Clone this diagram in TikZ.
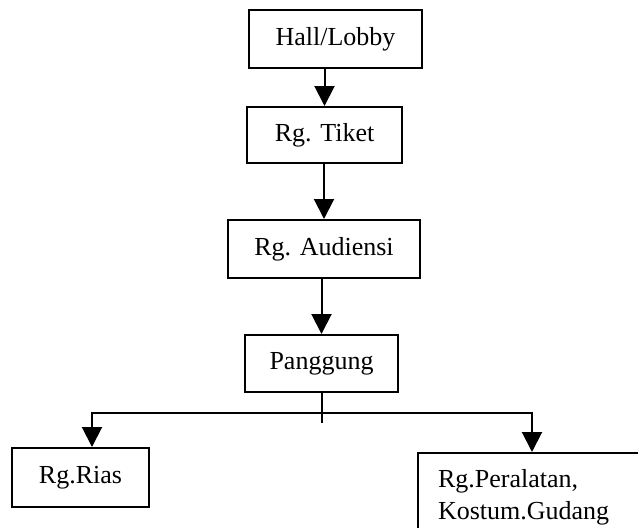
\documentclass[tikz,border=0pt]{standalone}
\usepackage{fontspec}
\setmainfont{Liberation Serif}
\usetikzlibrary{arrows.meta, positioning}
\tikzset{
  room/.style={draw, line width=1pt, align=center, inner sep=2pt, font=\fontsize{13}{16}\selectfont},
  arrow/.style={-{Triangle[length=10pt, width=10pt]}, line width=1pt},
  every node/.style={font=\fontsize{13}{16}\selectfont}
}

\begin{document}
\begin{tikzpicture}[x=0.5pt,y=-0.5pt]
    \useasboundingbox (0,0) rectangle (638,527);
    \clip (0,0) rectangle (638,527);
    % main chain
    \node[room, minimum width=86.5pt, minimum height=29pt] (hall) at (335.5,39) {Hall/Lobby};
    \node[room, minimum width=77.5pt, minimum height=28pt] (tiket) at (324.5,135) {Rg. Tiket};
    \node[room, minimum width=96pt, minimum height=29pt] (audiensi) at (324,249) {Rg. Audiensi};
    \node[room, minimum width=76.5pt, minimum height=28.5pt] (panggung) at (321.5,363.5) {Panggung};
    % rooms behind the stage
    \node[room, minimum width=68.5pt, minimum height=29.5pt] (rias) at (80.5,477.5) {Rg.Rias};
    \node[room, anchor=north west, align=left, text width=100pt, inner xsep=10pt, minimum height=44.5pt] (alat) at (417,452) {Rg.Peralatan,\\Kostum.Gudang};
    \draw[arrow] (tiket.north |- hall.south) -- (tiket.north);
    \draw[arrow] (audiensi.north |- tiket.south) -- (audiensi.north);
    \draw[arrow] (panggung.north |- audiensi.south) -- (panggung.north);
    % split below the stage
    \coordinate (fork) at ([yshift=-10pt]panggung.south);
    \draw[line width=1pt] (panggung.south) -- ([yshift=-15pt]panggung.south);
    \draw[arrow] (fork) -| ([xshift=5.75pt]rias.north);
    \draw[arrow] (fork) -| ([xshift=57.5pt]alat.north west);
\end{tikzpicture}
\end{document}
